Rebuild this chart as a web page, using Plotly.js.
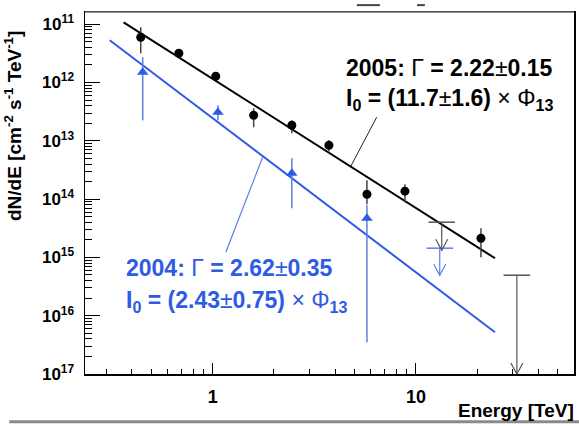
<!DOCTYPE html>
<html><head><meta charset="utf-8">
<script src="https://cdn.plot.ly/plotly-3.0.1.min.js"></script>
<style>html,body{margin:0;padding:0;background:#fff}#chart{width:579px;height:426px}</style>
</head><body><div id="chart"></div>
<script>
// 2005 data points (TeV, cm^-2 s^-1 TeV^-1)
const e05 = [0.442, 0.681, 1.034, 1.59, 2.45, 3.73, 5.74, 8.83, 20.9];
const f05 = [5.99e-12, 3.18e-12, 1.28e-12, 2.75e-13, 1.85e-13, 8.41e-14, 1.21e-14, 1.37e-14, 2.13e-15];
const f05hi = [8.88e-12, 3.72e-12, 1.50e-12, 3.62e-13, 2.25e-13, 1.02e-13, 2.11e-14, 1.80e-14, 3.17e-15];
const f05lo = [3.18e-12, 2.61e-12, 1.09e-12, 1.71e-13, 1.35e-13, 6.64e-14, 8.2e-15, 8.85e-15, 1.01e-15];
const ul05E = [13.4, 31.4];
const ul05F = [4.02e-15, 4.95e-16];
const ul05Tip = [1.33e-15, 1.0e-17];
// 2004 data points
const e04 = [0.452, 1.06, 2.45, 5.74];
const f04 = [1.50e-12, 3.10e-13, 2.78e-14, 4.70e-15];
const f04hi = [2.72e-12, 4.08e-13, 5.04e-14, 7.85e-15];
const f04lo = [2.25e-13, 2.25e-13, 6.98e-15, 3.5e-17];
const ul04E = [13.1];
const ul04F = [1.44e-15];
const ul04Tip = [4.95e-16];
// power-law fit lines (end points)
const fit05E = [0.364, 24.5];
const fit05F = [1.08e-11, 9.68e-16];
const fit04E = [0.311, 24.5];
const fit04F = [5.32e-12, 5.21e-17];
// label pointer lines
const ptr05E = [6.41, 4.78];
const ptr05F = [2.54e-13, 3.66e-14];
const ptr04E = [1.76, 1.159];
const ptr04F = [5.24e-14, 1.23e-15];
// ticks
const xTickVals = [1, 10];
const xTickText = ['1', '10'];
const yTickVals = [1e-11, 1e-12, 1e-13, 1e-14, 1e-15, 1e-16, 1e-17];
const yTickText = ['10<sup>11</sup>', '10<sup>12</sup>', '10<sup>13</sup>', '10<sup>14</sup>', '10<sup>15</sup>', '10<sup>16</sup>', '10<sup>17</sup>'];
const xMinor = [0.3, 0.4, 0.5, 0.6, 0.7, 0.8, 0.9, 2, 3, 4, 5, 6, 7, 8, 9, 20, 30, 40, 50];
const yMinor = [];
for (let n = -17; n <= -12; n++) for (let k = 2; k <= 9; k++) yMinor.push(k * Math.pow(10, n));

const BLUE = '#2d5be3';
const BLUE_ERR = '#5a7fe8';
const FONT = 'Liberation Sans, Arial, Helvetica, sans-serif';

const diff = (a, b) => a.map((v, i) => v - b[i]);

const traces = [];
// fit lines
traces.push({x: fit05E, y: fit05F, mode: 'lines', line: {color: '#000', width: 2}, hoverinfo: 'skip'});
traces.push({x: fit04E, y: fit04F, mode: 'lines', line: {color: BLUE, width: 2}, hoverinfo: 'skip'});
// pointer lines
traces.push({x: ptr05E, y: ptr05F, mode: 'lines', line: {color: '#222', width: 1}, hoverinfo: 'skip'});
traces.push({x: ptr04E, y: ptr04F, mode: 'lines', line: {color: BLUE_ERR, width: 1.2}, hoverinfo: 'skip'});
// 2005 points
traces.push({x: e05, y: f05, mode: 'markers',
  marker: {symbol: 'circle', size: 9, color: '#000'},
  error_y: {type: 'data', symmetric: false, array: diff(f05hi, f05), arrayminus: diff(f05, f05lo), color: '#444', thickness: 1.5, width: 0}});
// 2004 points
traces.push({x: e04, y: f04, mode: 'markers',
  marker: {symbol: 'triangle-up', size: 10, color: BLUE},
  error_y: {type: 'data', symmetric: false, array: diff(f04hi, f04), arrayminus: diff(f04, f04lo), color: BLUE_ERR, thickness: 1.5, width: 0}});
// upper limits
const shapes = [];
function addUL(E, F, T, color) {
  for (let i = 0; i < E.length; i++) {
    traces.push({x: [E[i], E[i]], y: [F[i], T[i]], mode: 'lines', line: {color: color, width: 1.2}, hoverinfo: 'skip'});
    shapes.push({type: 'path', xref: 'x', yref: 'y', xsizemode: 'pixel', ysizemode: 'pixel',
      xanchor: E[i], yanchor: T[i], path: 'M-6,11 L0,0 L6,11', line: {color: color, width: 1.2}});
  }
  traces.push({x: E, y: F, mode: 'markers', marker: {symbol: 'line-ew', size: 19, line: {color: color, width: 1.5}}, hoverinfo: 'skip'});
}
addUL(ul05E, ul05F, ul05Tip, '#555');
addUL(ul04E, ul04F, ul04Tip, BLUE_ERR);

// frame decorations
shapes.push({type: 'line', xref: 'paper', yref: 'paper', x0: 0, x1: 1, y0: 1, y1: 1, line: {color: '#5f7070', width: 1.5}});
shapes.push({type: 'line', xref: 'paper', yref: 'paper', x0: -0.155, x1: 1.012, y0: -0.132, y1: -0.132, line: {color: '#8a8a8a', width: 3}});
shapes.push({type: 'line', xref: 'paper', yref: 'paper', x0: 0.556, x1: 0.603, y0: 1.019, y1: 1.019, line: {color: '#444', width: 2}});
shapes.push({type: 'line', xref: 'paper', yref: 'paper', x0: 0.679, x1: 0.695, y0: 1.019, y1: 1.019, line: {color: '#444', width: 2}});

const annotations = [
  {xref: 'paper', yref: 'paper', x: 0.530, y: 0.845, xanchor: 'left', yanchor: 'middle', showarrow: false,
   text: '<b>2005: </b>Γ<b> = 2.22</b>±<b>0.15</b>', font: {family: FONT, size: 23, color: '#000'}},
  {xref: 'paper', yref: 'paper', x: 0.530, y: 0.757, xanchor: 'left', yanchor: 'middle', showarrow: false,
   text: '<b>I<sub>0</sub> = (11.7</b>±<b>1.6)</b> × Φ<sub><b>13</b></sub>', font: {family: FONT, size: 23, color: '#000'}},
  {xref: 'paper', yref: 'paper', x: 0.080, y: 0.293, xanchor: 'left', yanchor: 'middle', showarrow: false,
   text: '<b>2004: </b>Γ<b> = 2.62</b>±<b>0.35</b>', font: {family: FONT, size: 23, color: BLUE}},
  {xref: 'paper', yref: 'paper', x: 0.080, y: 0.199, xanchor: 'left', yanchor: 'middle', showarrow: false,
   text: '<b>I<sub>0</sub> = (2.43</b>±<b>0.75)</b> × Φ<sub><b>13</b></sub>', font: {family: FONT, size: 23, color: BLUE}},
  {xref: 'paper', yref: 'paper', x: -0.146, y: 0.684, xanchor: 'center', yanchor: 'middle', showarrow: false, textangle: -90,
   text: '<b>dN/dE [cm<sup>-2</sup> s<sup>-1</sup> TeV<sup>-1</sup>]</b>', font: {family: FONT, size: 19, color: '#000'}},
  {xref: 'paper', yref: 'paper', x: 1.004, y: -0.102, xanchor: 'right', yanchor: 'middle', showarrow: false,
   text: '<b>Energy [TeV]</b>', font: {family: FONT, size: 19, color: '#000'}}
];

const layout = {
  width: 579, height: 426,
  margin: {l: 85, r: 5, t: 12, b: 52},
  paper_bgcolor: '#fff', plot_bgcolor: '#fff',
  showlegend: false,
  xaxis: {type: 'log', range: [Math.log10(0.235), Math.log10(60)],
    showline: true, linecolor: '#000', linewidth: 1.5, mirror: true,
    ticks: 'inside', ticklen: 11, tickwidth: 1, tickcolor: '#000',
    tickmode: 'array', tickvals: xTickVals, ticktext: xTickText,
    tickfont: {family: FONT, size: 18, weight: 'bold', color: '#000'},
    ticklabelstandoff: 6,
    minor: {tickmode: 'array', tickvals: xMinor, ticks: 'inside', ticklen: 5, tickcolor: '#000', showgrid: false},
    showgrid: false, zeroline: false},
  yaxis: {type: 'log', range: [-17, -10.79],
    showline: true, linecolor: '#000', linewidth: 1.5, mirror: true,
    ticks: 'inside', ticklen: 15, tickwidth: 1, tickcolor: '#000',
    tickmode: 'array', tickvals: yTickVals, ticktext: yTickText,
    tickfont: {family: FONT, size: 17, weight: 'bold', color: '#000'},
    ticklabelstandoff: 6,
    minor: {tickmode: 'array', tickvals: yMinor, ticks: 'inside', ticklen: 7, tickcolor: '#000', showgrid: false},
    showgrid: false, zeroline: false},
  shapes: shapes,
  annotations: annotations
};

Plotly.newPlot('chart', traces, layout, {staticPlot: true, displayModeBar: false});
</script>
</body></html>
